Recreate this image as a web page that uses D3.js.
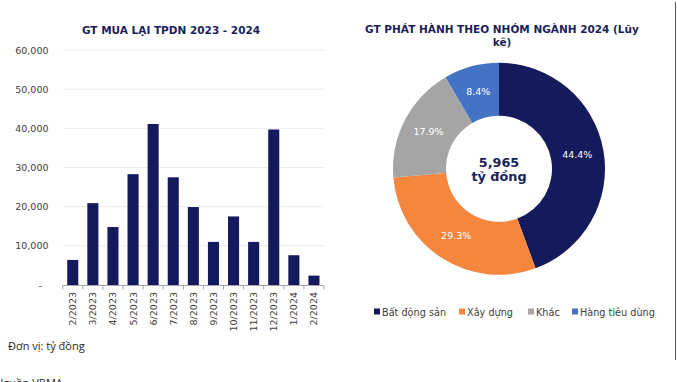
<!DOCTYPE html>
<html><head><meta charset="utf-8">
<script src="https://cdn.jsdelivr.net/npm/d3@7/dist/d3.min.js"></script>
<style>
body{margin:0;background:#fff;}
svg{display:block;}
</style></head>
<body>
<svg id="c" width="677" height="382"></svg>
<script>
const months = ["2/2023","3/2023","4/2023","5/2023","6/2023","7/2023","8/2023","9/2023","10/2023","11/2023","12/2023","1/2024","2/2024"];
const buyback = [6400,20900,14800,28300,41100,27500,19900,11000,17500,11000,39700,7600,2400];
const yTicks = [0,10000,20000,30000,40000,50000,60000];

const sectors = ["Bất động sản","Xây dựng","Khác","Hàng tiêu dùng"];
const shares = [44.4,29.3,17.9,8.4];
const sectorColors = ["#141a5c","#f4873d","#a5a5a5","#4472c4"];
const totalLabel = ["5,965","tỷ đồng"];

const svg = d3.select("#c");
const navy = "#1a1f5c";
const font = "DejaVu Sans";

// ---- Bar chart ----
const x = d3.scaleBand().domain(months).range([62.7,324]).paddingInner(0.45).paddingOuter(0.225);
const y = d3.scaleLinear().domain([0,60000]).range([285,50]);

svg.append("text").attr("x",171).attr("y",34).attr("text-anchor","middle")
  .attr("font-family",font).attr("font-weight","bold").attr("font-size",10.5).attr("fill",navy)
  .text("GT MUA LẠI TPDN 2023 - 2024");

const g = svg.append("g");
g.selectAll("line.grid").data(yTicks.slice(1)).join("line")
  .attr("x1",62.7).attr("x2",324).attr("y1",d=>y(d)).attr("y2",d=>y(d))
  .attr("stroke","#ececec").attr("stroke-width",1);

g.selectAll("text.yt").data(yTicks).join("text")
  .attr("x",d=>d===0?42:48.5).attr("y",d=>y(d)+3.5).attr("text-anchor","end")
  .attr("font-family",font).attr("font-size",9.5).attr("fill","#404040")
  .text(d=>d===0?"-":d3.format(",")(d));

g.selectAll("rect").data(buyback).join("rect")
  .attr("x",(d,i)=>x(months[i])).attr("width",x.bandwidth())
  .attr("y",d=>y(d)).attr("height",d=>y(0)-y(d)).attr("fill","#141a5c");

g.append("line").attr("x1",62.7).attr("x2",324).attr("y1",285.5).attr("y2",285.5).attr("stroke","#a6a6a6");
const bounds = d3.range(months.length+1).map(i=>62.7+i*(324-62.7)/months.length);
g.selectAll("line.tk").data(bounds).join("line")
  .attr("x1",d=>d).attr("x2",d=>d).attr("y1",285.5).attr("y2",289.5).attr("stroke","#a6a6a6");

g.selectAll("text.xt").data(months).join("text")
  .attr("transform",d=>`translate(${x(d)+x.bandwidth()/2+3.5},292) rotate(-90)`)
  .attr("text-anchor","end").attr("font-family",font).attr("font-size",9.5).attr("fill","#404040")
  .text(d=>d);

svg.append("text").attr("x",8).attr("y",350).attr("font-family","Open Sans").attr("font-size",11).attr("fill","#262626")
  .text("Đơn vị: tỷ đồng");
svg.append("text").attr("x",-5).attr("y",386.5).attr("font-family","Open Sans").attr("font-size",11).attr("fill","#262626")
  .text("Nguồn VBMA");

// ---- Donut ----
const cx=499, cy=168.8, ro=106, ri=53;
svg.append("text").attr("x",502).attr("y",33).attr("text-anchor","middle")
  .attr("font-family",font).attr("font-weight","bold").attr("font-size",10.5).attr("fill",navy)
  .text("GT PHÁT HÀNH THEO NHÓM NGÀNH 2024 (Lũy");
svg.append("text").attr("x",502).attr("y",46).attr("text-anchor","middle")
  .attr("font-family",font).attr("font-weight","bold").attr("font-size",10.5).attr("fill",navy)
  .text("kê)");

const pie = d3.pie().sort(null).value(d=>d)(shares);
const arc = d3.arc().innerRadius(ri).outerRadius(ro);
const pg = svg.append("g").attr("transform",`translate(${cx},${cy})`);
pg.selectAll("path").data(pie).join("path").attr("d",arc).attr("fill",(d,i)=>sectorColors[i]);
pg.selectAll("text").data(pie).join("text")
  .attr("transform",d=>`translate(${arc.centroid(d)})`).attr("dy","0.35em")
  .attr("text-anchor","middle").attr("font-family",font).attr("font-size",9.5).attr("fill","#fff")
  .text(d=>d.value.toFixed(1)+"%");

pg.append("text").attr("y",-2).attr("text-anchor","middle").attr("font-family",font).attr("font-weight","bold")
  .attr("font-size",12.8).attr("fill",navy).text(totalLabel[0]);
pg.append("text").attr("y",12.5).attr("text-anchor","middle").attr("font-family",font).attr("font-weight","bold")
  .attr("font-size",12.8).attr("fill",navy).text(totalLabel[1]);

// legend
const legX = [374,459,528,572];
const lg = svg.append("g");
sectors.forEach((s,i)=>{
  lg.append("rect").attr("x",legX[i]).attr("y",308.5).attr("width",6).attr("height",6).attr("fill",sectorColors[i]);
  lg.append("text").attr("x",legX[i]+8).attr("y",315.5).attr("font-family",font).attr("font-size",9.7)
    .attr("fill","#404040").text(s);
});

svg.append("line").attr("x1",675.5).attr("x2",675.5).attr("y1",2).attr("y2",360).attr("stroke","#555").attr("stroke-width",1);
</script>
</body></html>
